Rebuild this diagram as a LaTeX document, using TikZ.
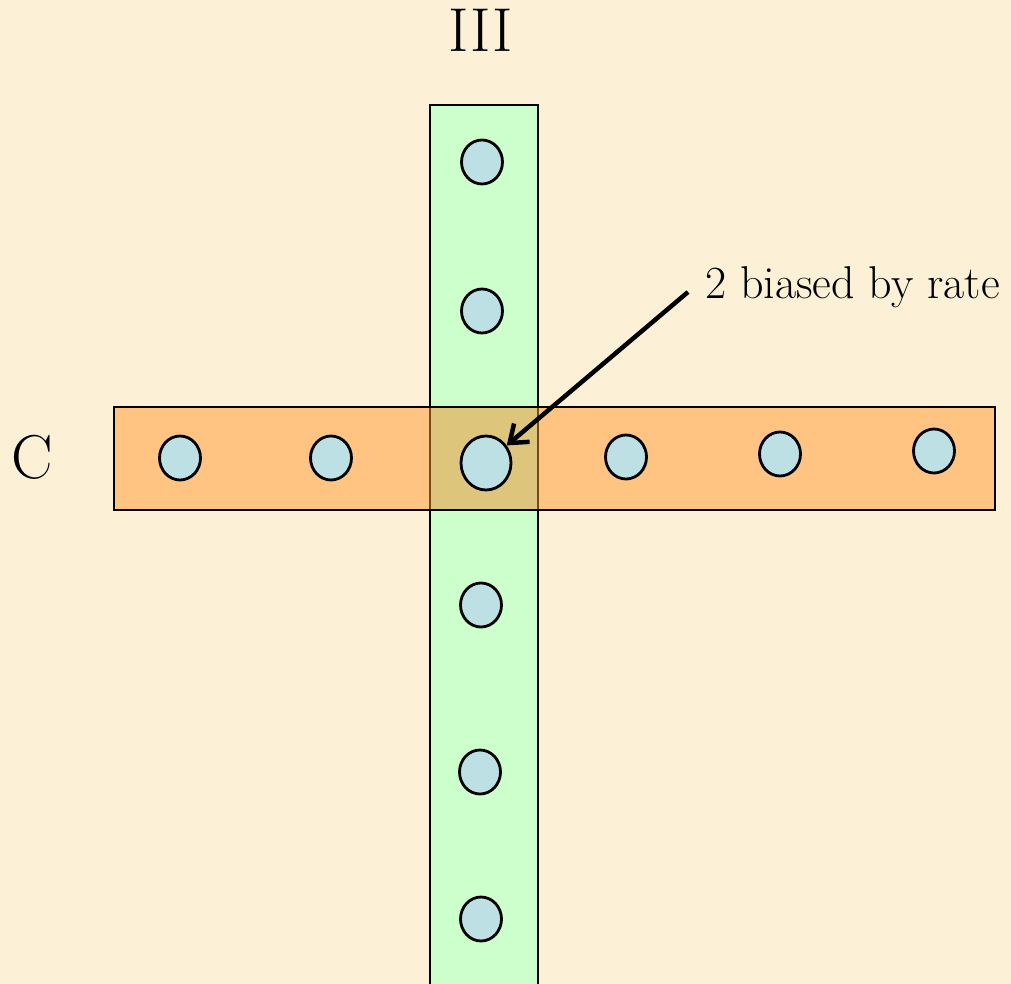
\documentclass[tikz,border=0pt]{standalone}
\usetikzlibrary{shapes.geometric,arrows.meta}
\definecolor{bgcol}{HTML}{FCF0D6}
\definecolor{greencol}{HTML}{CCFFCC}
\definecolor{orangecol}{HTML}{FFC382}
\definecolor{overlapcol}{HTML}{DDC67C}
\definecolor{dotcol}{HTML}{BCE0E4}
\definecolor{browncol}{HTML}{7A4A1C}
\tikzset{
  band/.style={draw=black, line width=2.8pt},
  dot/.style={ellipse, draw=black, fill=dotcol, line width=2.8pt, minimum width=41pt, minimum height=44pt, inner sep=0pt},
  bigdot/.style={dot, minimum width=50pt, minimum height=54pt},
  biglabel/.style={font=\rmfamily\fontsize{62}{64}\selectfont, inner sep=0pt},
  smalllabel/.style={font=\rmfamily\fontsize{46}{48}\selectfont, inner sep=0pt},
  pointer/.style={line width=4.5pt, -{Straight Barb[length=16pt,width=24pt,line width=4.5pt]}}
}
\begin{document}
\begin{tikzpicture}[x=1pt,y=-1pt]
\useasboundingbox (0,0) rectangle (1011,984);
\fill[bgcol] (0,0) rectangle (1011,984);
% vertical green band
\fill[greencol] (430,105) rectangle (538,990);
\draw[band] (430,990) -- (430,105) -- (538,105) -- (538,990);
% horizontal orange band
\fill[orangecol] (114,407) rectangle (995,510);
\fill[overlapcol] (430,407) rectangle (538,510);
\draw[browncol, line width=2.8pt] (430,407) -- (430,510) (538,407) -- (538,510);
\draw[band] (114,407) rectangle (995,510);
% dots in the vertical band
\node[dot] (v1) at (482,162) {};
\node[dot] (v2) at (482,311) {};
\node[dot] (v4) at (481,605) {};
\node[dot] (v5) at (480,772) {};
\node[dot] (v6) at (481,919) {};
% dots in the horizontal band
\node[dot] (h1) at (180,458) {};
\node[dot] (h2) at (331,458) {};
\node[bigdot] (c) at (486,463) {};
\node[dot] (h4) at (626,457) {};
\node[dot] (h5) at (780,454) {};
\node[dot] (h6) at (934,451) {};
% labels
\node[biglabel, anchor=base] (lIII) at (481,52) {III};
\node[biglabel, anchor=base west] (lC) at (11,478) {C};
\node[smalllabel, anchor=base west] (lrate) at (705,298) {2 biased by rate};
\coordinate (astart) at (688,292);
\draw[pointer] (astart) -- (c);
\end{tikzpicture}
\end{document}
